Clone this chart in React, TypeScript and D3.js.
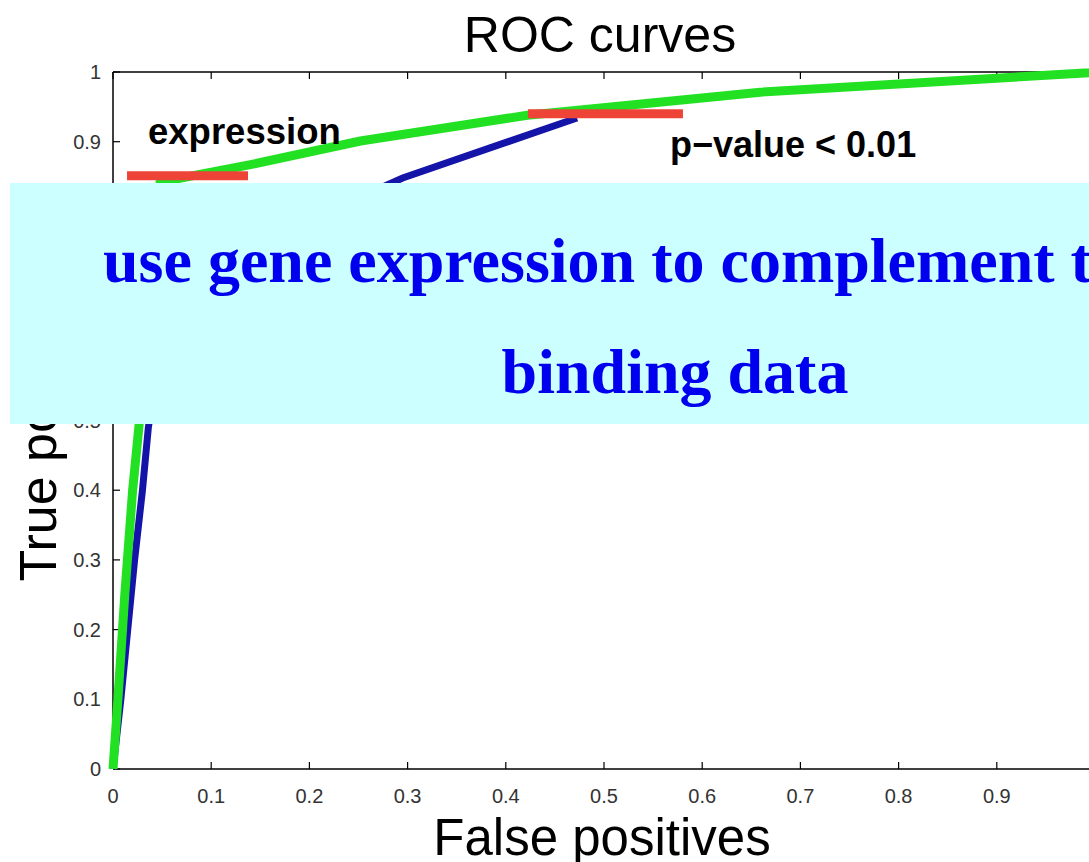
import React from 'react'
import * as d3 from 'd3'

// ROC curve points (false positive rate, true positive rate)
const greenFpr = [0, 0.005, 0.012, 0.02, 0.027, 0.048, 0.14, 0.252, 0.422, 0.659, 0.994, 1]
const greenTpr = [0, 0.1, 0.25, 0.4, 0.5, 0.842, 0.867, 0.901, 0.938, 0.971, 0.999, 1]
const blueFpr = [0, 0.008, 0.015, 0.022, 0.03, 0.036, 0.06, 0.295, 0.4725]
const blueTpr = [0, 0.1, 0.2, 0.3, 0.4, 0.49, 0.7, 0.848, 0.934]

// red threshold markers: [x start, x end, y]
const markers = [
  [0.0143, 0.1375, 0.851],
  [0.4226, 0.5804, 0.94],
]

const ticks = [0, 0.1, 0.2, 0.3, 0.4, 0.5, 0.6, 0.7, 0.8, 0.9, 1]
const tickLabels = ['0', '0.1', '0.2', '0.3', '0.4', '0.5', '0.6', '0.7', '0.8', '0.9', '1']

const overlayLines = ['use gene expression to complement the', 'binding data']

export default function App() {
  const width = 1089
  const height = 862
  const x = d3.scaleLinear().domain([0, 1]).range([113, 1095])
  const y = d3.scaleLinear().domain([0, 1]).range([769, 72])

  const line = d3.line<[number, number]>()
    .x(d => x(d[0]))
    .y(d => y(d[1]))

  const green = line(greenFpr.map((v, i) => [v, greenTpr[i]]))
  const blue = line(blueFpr.map((v, i) => [v, blueTpr[i]]))

  const sans = 'Liberation Sans, Arial, Helvetica, sans-serif'
  const serif = 'Liberation Serif, Times New Roman, serif'

  return (
    <svg width={width} height={height} style={{ position: 'absolute', left: 0, top: 0, background: '#fff' }}>
      <rect x={0} y={0} width={width} height={height} fill='#fff' />

      {/* title */}
      <text x={600} y={52} textAnchor='middle' fontFamily={sans} fontSize={50}>ROC curves</text>

      {/* axes */}
      <line x1={x(0)} x2={width} y1={y(0)} y2={y(0)} stroke='#000' strokeWidth={1.5} />
      <line x1={x(0)} x2={width} y1={y(1)} y2={y(1)} stroke='#000' strokeWidth={1.5} />
      <line x1={x(0)} x2={x(0)} y1={y(0)} y2={y(1)} stroke='#000' strokeWidth={1.5} />
      {ticks.map((t, i) => (
        <g key={'t' + i}>
          <line x1={x(t)} x2={x(t)} y1={y(0)} y2={y(0) - 7} stroke='#000' strokeWidth={1.2} />
          <line x1={x(t)} x2={x(t)} y1={y(1)} y2={y(1) + 7} stroke='#000' strokeWidth={1.2} />
          <line x1={x(0)} x2={x(0) + 7} y1={y(t)} y2={y(t)} stroke='#000' strokeWidth={1.2} />
          <text x={x(t)} y={y(0) + 34} textAnchor='middle' fontFamily={sans} fontSize={20} fill='#333'>{tickLabels[i]}</text>
          <text x={x(0) - 12} y={y(t)} dy='0.35em' textAnchor='end' fontFamily={sans} fontSize={20} fill='#333'>{tickLabels[i]}</text>
        </g>
      ))}

      {/* curves */}
      <path d={blue || ''} fill='none' stroke='#1414a8' strokeWidth={7} />
      <path d={green || ''} fill='none' stroke='#22e022' strokeWidth={9} />
      {markers.map((m, i) => (
        <line key={'m' + i} x1={x(m[0])} x2={x(m[1])} y1={y(m[2])} y2={y(m[2])} stroke='#ee4438' strokeWidth={9} />
      ))}

      {/* annotations */}
      <text x={148} y={144} fontFamily={sans} fontWeight='bold' fontSize={36.5}>expression</text>
      <text x={670} y={157} fontFamily={sans} fontWeight='bold' fontSize={36}>p−value &lt; 0.01</text>

      {/* axis labels */}
      <text x={602} y={855} textAnchor='middle' fontFamily={sans} fontSize={51}>False positives</text>
      <text transform={`translate(56, ${(y(0) + y(1)) / 2}) rotate(-90)`} textAnchor='middle' fontFamily={sans} fontSize={52}>True positives</text>

      {/* overlay box */}
      <rect x={10} y={183} width={width} height={241} fill='#ccffff' />
      <text x={103} y={282} fontFamily={serif} fontWeight='bold' fontSize={64} fill='#0000ee'>{overlayLines[0]}</text>
      <text x={675} y={393} textAnchor='middle' fontFamily={serif} fontWeight='bold' fontSize={64} fill='#0000ee'>{overlayLines[1]}</text>
    </svg>
  )
}
